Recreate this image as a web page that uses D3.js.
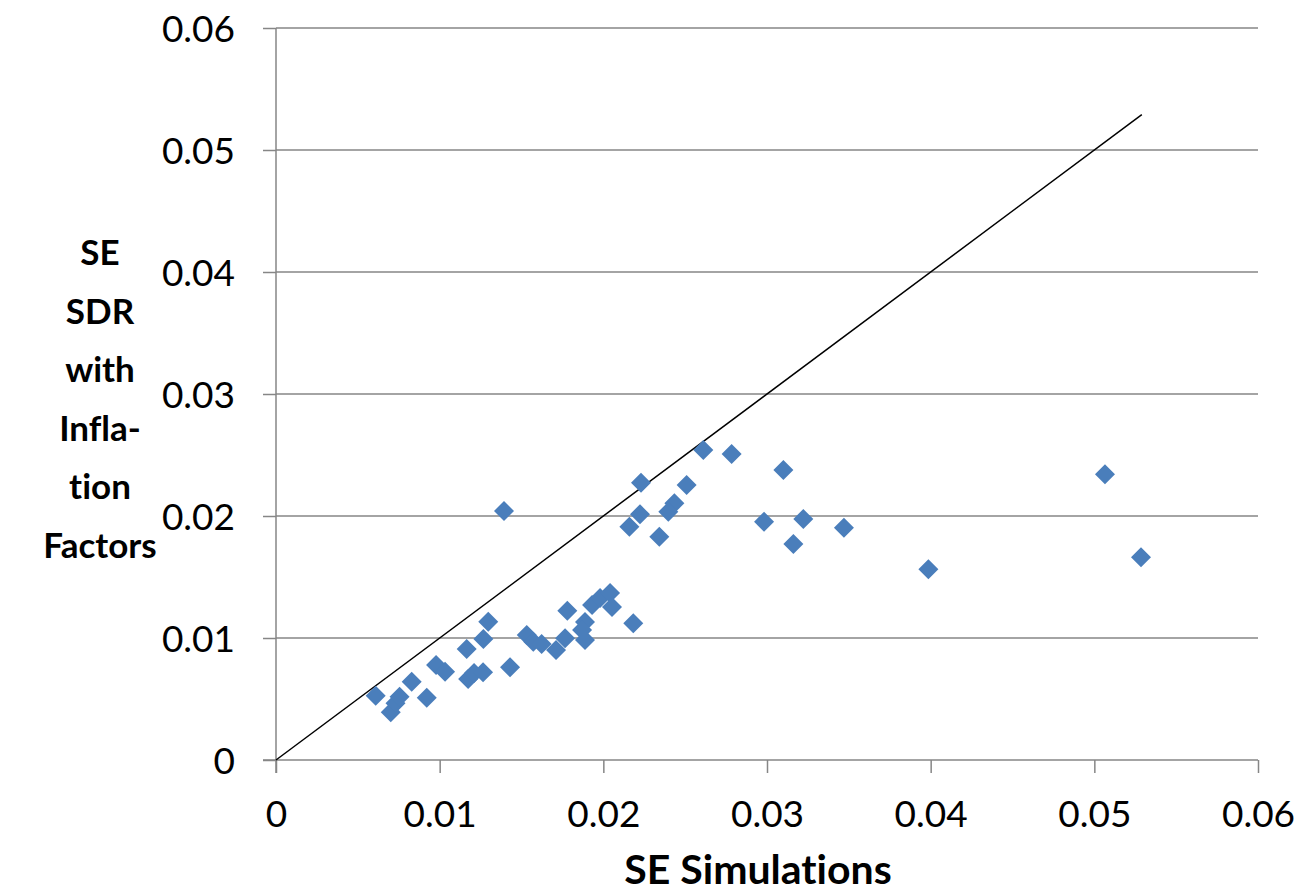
<!DOCTYPE html>
<html>
<head>
<meta charset="utf-8">
<script src="https://cdn.jsdelivr.net/npm/d3@7/dist/d3.min.js"></script>
<style>
  html, body { margin: 0; padding: 0; background: #fff; }
  svg { display: block; }
  text, tspan { font-variant-ligatures: none; font-feature-settings: "liga" 0, "clig" 0, "calt" 0, "dlig" 0; }
</style>
</head>
<body>
<svg id="chart" width="1299" height="894"></svg>
<script>
// ---- Data ----
const seSimulations = [
  0.00609, 0.00701, 0.00730, 0.00755, 0.00829, 0.00921, 0.00978, 0.01033,
  0.01165, 0.01297, 0.01267, 0.01174, 0.01210, 0.01265, 0.01430, 0.01532,
  0.01572, 0.01623, 0.01711, 0.01766, 0.01780, 0.01888, 0.01870, 0.01888,
  0.01931, 0.01980, 0.02041, 0.02053, 0.02183, 0.02230, 0.02611, 0.02784,
  0.02509, 0.02434, 0.02397, 0.02224, 0.02159, 0.02342, 0.03100, 0.02982,
  0.03222, 0.03161, 0.03470, 0.03986, 0.05065, 0.05285, 0.01393
];
const seSDRInflation = [
  0.00527, 0.00391, 0.00465, 0.00519, 0.00642, 0.00511, 0.00779, 0.00724,
  0.00910, 0.01134, 0.00992, 0.00664, 0.00713, 0.00719, 0.00760, 0.01025,
  0.00970, 0.00951, 0.00902, 0.00998, 0.01224, 0.01131, 0.01066, 0.00984,
  0.01270, 0.01328, 0.01369, 0.01254, 0.01120, 0.02273, 0.02541, 0.02508,
  0.02254, 0.02104, 0.02035, 0.02014, 0.01912, 0.01830, 0.02377, 0.01953,
  0.01975, 0.01770, 0.01904, 0.01563, 0.02342, 0.01661, 0.02041
];
const lineEnds = [0, 0.0529];
const xTicks = [0, 0.01, 0.02, 0.03, 0.04, 0.05, 0.06];
const yTicks = [0, 0.01, 0.02, 0.03, 0.04, 0.05, 0.06];
const xTitle = "SE Simulations";
const yTitleLines = ["SE", "SDR", "with", "Infla-", "tion", "Factors"];

// ---- Layout ----
const svg = d3.select("#chart");
const pLeft = 276, pRight = 1258, pTop = 28, pBottom = 760;
const x = d3.scaleLinear().domain([0, 0.06]).range([pLeft, pRight]);
const y = d3.scaleLinear().domain([0, 0.06]).range([pBottom, pTop]);
const axisColor = "#868686";
const fmt = d => d === 0 ? "0" : d3.format(".2f")(d);
const tickFont = "Lato, 'Open Sans', sans-serif";
const noLig = "\"liga\" 0, \"clig\" 0, \"calt\" 0, \"dlig\" 0";

// horizontal gridlines
svg.append("g").selectAll("line")
  .data(yTicks.filter(d => d > 0))
  .join("line")
  .attr("x1", pLeft).attr("x2", pRight)
  .attr("y1", d => y(d)).attr("y2", d => y(d))
  .attr("stroke", axisColor).attr("stroke-width", 1.5);

// x axis
const xAxis = d3.axisBottom(x).tickValues(xTicks).tickFormat(fmt)
  .tickSizeInner(13).tickSizeOuter(0).tickPadding(30);
const gx = svg.append("g").attr("transform", `translate(0,${pBottom})`).call(xAxis);
gx.select(".domain").attr("stroke", axisColor).attr("stroke-width", 1.5)
  .attr("d", `M${pLeft - 13},0H${pRight}`);
gx.selectAll(".tick line").attr("stroke", axisColor).attr("stroke-width", 1.5);
gx.selectAll(".tick text").attr("fill", "#000").style("font-family", tickFont)
  .style("font-size", "37px").attr("dy", "0.71em").attr("y", 41);

// y axis
const yAxis = d3.axisLeft(y).tickValues(yTicks).tickFormat(fmt)
  .tickSizeInner(13).tickSizeOuter(0).tickPadding(28);
const gy = svg.append("g").attr("transform", `translate(${pLeft},0)`).call(yAxis);
gy.select(".domain").attr("stroke", axisColor).attr("stroke-width", 1.5)
  .attr("d", `M0,${pTop}V${pBottom + 13}`);
gy.selectAll(".tick line").attr("stroke", axisColor).attr("stroke-width", 1.5);
gy.selectAll(".tick text").attr("fill", "#000").style("font-family", tickFont)
  .style("font-size", "37px").attr("dy", "0.36em");

// diagonal reference line
svg.append("line")
  .attr("x1", x(lineEnds[0])).attr("y1", y(lineEnds[0]))
  .attr("x2", x(lineEnds[1])).attr("y2", y(lineEnds[1]))
  .attr("stroke", "#000").attr("stroke-width", 1.5);

// points
const pts = seSimulations.map((v, i) => ({ x: v, y: seSDRInflation[i] }));
const diamond = d3.symbol().type(d3.symbolSquare).size(200);
svg.append("g").selectAll("path")
  .data(pts)
  .join("path")
  .attr("d", diamond)
  .attr("transform", d => `translate(${x(d.x)},${y(d.y)}) rotate(45)`)
  .attr("fill", "#4a7ebb");

// titles
svg.append("text")
  .attr("x", (pLeft + pRight) / 2 - 9).attr("y", 884)
  .attr("text-anchor", "middle")
  .style("font-family", tickFont).style("font-weight", "bold").style("font-size", "41px")
  .style("font-variant-ligatures", "none").style("font-feature-settings", noLig)
  .text(xTitle);

const yt = svg.append("text")
  .attr("text-anchor", "middle")
  .style("font-family", tickFont).style("font-weight", "bold").style("font-size", "35px")
  .style("font-variant-ligatures", "none").style("font-feature-settings", noLig);
yt.selectAll("tspan").data(yTitleLines).join("tspan")
  .attr("x", 100)
  .attr("y", (d, i) => 265 + i * 58.6)
  .text(d => d);
</script>
</body>
</html>
